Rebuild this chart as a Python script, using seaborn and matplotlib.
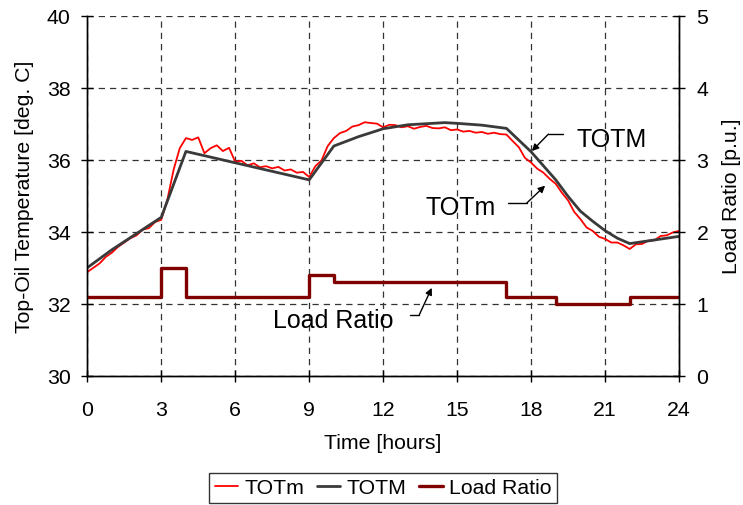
import numpy as np
import pandas as pd
import matplotlib
matplotlib.use("Agg")
import matplotlib.pyplot as plt
import seaborn as sns

# Measured top-oil temperature (TOTm), sampled every 15 minutes
tm_time = [i * 0.25 for i in range(97)]
tm_temp = [32.88, 33.00, 33.12, 33.30, 33.42, 33.58, 33.70, 33.82, 33.90, 34.06,
           34.10, 34.27, 34.33, 34.90, 35.72, 36.32, 36.60, 36.55, 36.62, 36.18,
           36.32, 36.40, 36.24, 36.33, 35.94, 35.97, 35.84, 35.90, 35.79, 35.82,
           35.76, 35.80, 35.70, 35.73, 35.64, 35.66, 35.52, 35.82, 35.98, 36.38,
           36.60, 36.74, 36.80, 36.92, 36.96, 37.04, 37.02, 37.00, 36.90, 36.97,
           36.96, 36.90, 36.93, 36.86, 36.91, 36.94, 36.88, 36.87, 36.90, 36.82,
           36.84, 36.78, 36.80, 36.75, 36.77, 36.72, 36.75, 36.71, 36.70, 36.52,
           36.35, 36.05, 35.92, 35.75, 35.64, 35.47, 35.33, 35.08, 34.87, 34.55,
           34.35, 34.12, 34.02, 33.86, 33.80, 33.70, 33.70, 33.62, 33.52, 33.65,
           33.66, 33.75, 33.76, 33.88, 33.90, 33.98, 34.02]

# Model top-oil temperature (TOTM)
tmod_time = [0, 1, 2, 3, 4, 9, 10, 11, 12, 13, 14, 14.5, 15, 16, 17, 18,
             19, 19.5, 20, 20.5, 21, 21.5, 22, 23, 24]
tmod_temp = [33.0, 33.5, 33.95, 34.4, 36.23, 35.44, 36.38, 36.64, 36.86, 36.97,
             37.01, 37.03, 37.01, 36.96, 36.87, 36.22, 35.44, 34.98, 34.57, 34.29,
             34.03, 33.82, 33.67, 33.77, 33.87]

# Load ratio profile (piecewise constant)
load_time = [0, 3, 4, 9, 10, 17, 19, 22, 24]
load_ratio = [1.1, 1.5, 1.1, 1.4, 1.3, 1.1, 1.0, 1.1, 1.1]

x_ticks = [0, 3, 6, 9, 12, 15, 18, 21, 24]

df_m = pd.DataFrame({"Time": tm_time, "Temp": tm_temp})
df_M = pd.DataFrame({"Time": tmod_time, "Temp": tmod_temp})
df_L = pd.DataFrame({"Time": load_time, "Load": load_ratio})

sns.set_theme(style="white")
plt.rcParams["font.family"] = ["Liberation Sans", "DejaVu Sans"]
plt.rcParams.update({"text.color": "black", "axes.labelcolor": "black",
                     "xtick.color": "black", "ytick.color": "black",
                     "xtick.labelcolor": "black", "ytick.labelcolor": "black"})

fig = plt.figure(figsize=(7.43, 5.06), dpi=100)
ax = fig.add_axes([0.1175, 0.2555, 0.7964, 0.7115])
ax2 = ax.twinx()

red = "#ff0000"
dark = "#3a3a3a"
maroon = "#800000"

sns.lineplot(data=df_m, x="Time", y="Temp", ax=ax, color=red, lw=1.3,
             label="TOTm", legend=False)
sns.lineplot(data=df_M, x="Time", y="Temp", ax=ax, color=dark, lw=2.0,
             label="TOTM", legend=False)
sns.lineplot(data=df_L, x="Time", y="Load", ax=ax2, color=maroon, lw=2.4,
             drawstyle="steps-post", label="Load Ratio", legend=False)

ax.set_xlim(0, 24)
ax.set_ylim(30, 40)
ax2.set_ylim(0, 5)
ax.set_xticks(x_ticks)
ax.set_yticks(range(30, 41, 2))
ax2.set_yticks(range(0, 6))

fs = 15.3
ax.set_xlabel("Time [hours]", fontsize=fs, labelpad=10)
ax.set_ylabel("Top-Oil Temperature [deg. C]", fontsize=fs, labelpad=9)
ax2.set_ylabel("Load Ratio [p.u.]", fontsize=fs, labelpad=10)

for a in (ax, ax2):
    a.tick_params(labelsize=fs, direction="inout", length=9, width=1,
                  color="black", labelcolor="black")
    for s in a.spines.values():
        s.set_color("black")
        s.set_linewidth(1.0)
    a.spines["top"].set_visible(False)
ax.tick_params(axis="y", right=False, left=True, pad=7.5)
ax.tick_params(axis="x", bottom=True, pad=13)
ax2.tick_params(axis="y", right=True, left=False, pad=8)

ax.grid(True, color="#333333", linestyle=(0, (5, 4)), linewidth=0.9)
ax.set_axisbelow(True)

# Callout labels with leader arrows
arrow = dict(arrowstyle="-|>", color="black", lw=1.0, mutation_scale=10,
             shrinkA=0, shrinkB=0)
ann = [
    ("TOTM", 19.85, 36.57, 19.31, 18.70, 36.71, 18.03, 36.24),
    ("TOTm", 13.70, 34.69, 17.08, 17.83, 34.80, 18.57, 35.28),
    ("Load Ratio", 7.55, 31.55, 13.09, 13.47, 31.70, 13.97, 32.44),
]
for txt, tx, ty, h0, h1, hy, ax_, ay_ in ann:
    ax.text(tx, ty, txt, fontsize=18, ha="left", va="center", color="black")
    ax.plot([h0, h1], [hy, hy], color="black", lw=1.0)
    ax.annotate("", xy=(ax_, ay_), xytext=(h1, hy), arrowprops=arrow)

handles = ax.get_lines()[:2] + ax2.get_lines()[:1]
leg = fig.legend(handles, ["TOTm", "TOTM", "Load Ratio"], loc="center",
                 bbox_to_anchor=(0.5155, 0.034), ncol=3, fontsize=fs,
                 frameon=True, fancybox=False, handlelength=1.1,
                 handletextpad=0.3, columnspacing=0.6, borderpad=0.25,
                 borderaxespad=0)
leg.get_frame().set_edgecolor("black")
leg.get_frame().set_linewidth(1.0)

fig.savefig("out.png", dpi=100)
